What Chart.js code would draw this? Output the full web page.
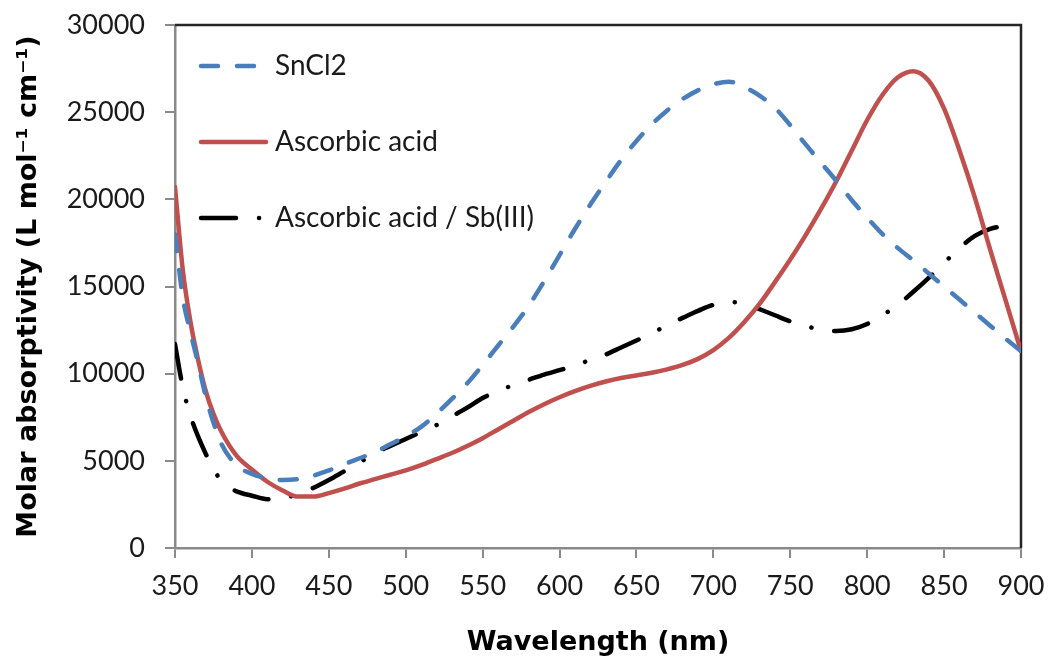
<!DOCTYPE html>
<html>
<head>
<meta charset="utf-8">
<script src="https://cdn.jsdelivr.net/npm/chart.js@4.4.1/dist/chart.umd.min.js"></script>
<style>
    html, body { margin: 0; padding: 0; background: #fff; }
    #wrap { width: 1049px; height: 661px; position: relative; }
</style>
</head>
<body>
<div id="wrap"><canvas id="spectra"></canvas></div>
<script>
// ── Data ──────────────────────────────────────────────────────
const X_TICKS = [350, 400, 450, 500, 550, 600, 650, 700, 750, 800, 850, 900];
const Y_TICKS = [0, 5000, 10000, 15000, 20000, 25000, 30000];

const WAVE_SNCL2 = [350, 355, 360, 365, 370, 375, 380, 390, 400, 410, 420, 430, 440, 450, 460, 470, 480, 490,
    500, 510, 520, 530, 540, 550, 560, 570, 580, 590, 600, 610, 620, 630, 640, 650, 660, 670, 680, 690,
    700, 710, 720, 730, 740, 750, 760, 770, 780, 790, 800, 810, 820, 830, 840, 850, 860, 870, 880, 890, 900];
const ABS_SNCL2 = [18000, 14400, 12400, 10600, 8700, 7200, 6000, 4750, 4250, 4000, 3900, 3950, 4150, 4450, 4800, 5150, 5500, 5950,
    6400, 6950, 7700, 8550, 9450, 10500, 11600, 12700, 13900, 15300, 16800, 18300, 19700, 21000, 22250, 23350, 24300, 25100, 25750, 26250,
    26600, 26750, 26450, 25950, 25250, 24250, 23150, 22100, 21050, 19950, 18950, 18000, 17200, 16500, 15750, 15000, 14250, 13500, 12750, 12000, 11300];

const WAVE_ASCORBIC = [350, 355, 360, 365, 370, 375, 380, 390, 400, 410, 420, 430, 440, 450, 460, 470, 480, 490,
    500, 510, 520, 530, 540, 550, 560, 570, 580, 590, 600, 610, 620, 630, 640, 650, 660, 670, 680, 690,
    700, 710, 720, 730, 740, 750, 760, 770, 780, 790, 800, 810, 820, 830, 840, 850, 860, 870, 880, 890, 900];
const ABS_ASCORBIC = [20700, 16000, 13000, 10800, 9000, 7700, 6700, 5300, 4500, 3800, 3300, 2950, 2950, 3150, 3400, 3700, 3950, 4200,
    4450, 4750, 5100, 5450, 5850, 6300, 6800, 7300, 7800, 8250, 8650, 9000, 9300, 9550, 9750, 9900, 10050, 10250, 10500, 10850,
    11350, 12050, 12950, 14000, 15250, 16550, 17950, 19450, 21050, 22800, 24550, 26000, 27000, 27350, 26800, 25200, 22800, 20100, 17100, 14200, 11300];

const WAVE_SB = [350, 355, 360, 365, 370, 375, 380, 385, 390, 400, 410, 420, 430, 440, 450, 460, 470, 480, 490,
    500, 510, 520, 530, 540, 550, 560, 570, 580, 590, 600, 610, 620, 630, 640, 650, 660, 670, 680, 690,
    700, 710, 720, 730, 740, 750, 760, 770, 780, 790, 800, 810, 820, 830, 840, 850, 860, 870, 880, 890];
const ABS_SB = [11700, 9250, 7600, 6400, 5400, 4500, 3900, 3500, 3250, 3000, 2800, 2850, 3100, 3450, 3900, 4400, 4900, 5450, 5850,
    6250, 6650, 7050, 7550, 8050, 8600, 9000, 9350, 9650, 9950, 10200, 10450, 10800, 11100, 11500, 11900, 12300, 12800, 13200, 13600,
    13950, 14100, 14050, 13700, 13350, 13000, 12750, 12500, 12450, 12550, 12850, 13350, 13950, 14700, 15500, 16350, 17200, 17900, 18300, 18500];

const SERIES_LABELS = ['SnCl2', 'Ascorbic acid', 'Ascorbic acid / Sb(III)'];

const FONT = 'Lato';
const TITLE_FONT = '"DejaVu Sans"';
const TEXT_COLOR = '#1a1a1a';
const AXIS_GRAY = '#8a8a8a';

const toPoints = (xs, ys) => xs.map((x, i) => ({ x, y: ys[i] }));

// ── Plot frame: dark top/right border ─────────────────────────
const framePlugin = {
    id: 'frame',
    beforeDatasetsDraw(chart) {
        const { ctx, chartArea: a } = chart;
        ctx.save();
        ctx.strokeStyle = '#262626';
        ctx.lineWidth = 2.5;
        ctx.beginPath();
        ctx.moveTo(a.left, a.top);
        ctx.lineTo(a.right, a.top);
        ctx.lineTo(a.right, a.bottom);
        ctx.stroke();
        ctx.restore();
    }
};

// ── Legend drawn inside the plot area ─────────────────────────
const insideLegend = {
    id: 'insideLegend',
    afterDatasetsDraw(chart) {
        const { ctx, chartArea: a } = chart;
        ctx.save();
        chart.data.datasets.forEach((ds, i) => {
            const y = a.top + 41 + i * 76;
            ctx.beginPath();
            ctx.strokeStyle = ds.borderColor;
            ctx.lineWidth = ds.borderWidth;
            ctx.lineCap = 'round';
            ctx.setLineDash(ds.borderDash || []);
            ctx.moveTo(a.left + 26, y);
            ctx.lineTo(a.left + 91, y);
            ctx.stroke();
            ctx.setLineDash([]);
            ctx.fillStyle = TEXT_COLOR;
            ctx.font = `28px ${FONT}`;
            ctx.textBaseline = 'middle';
            ctx.fillText(ds.label, a.left + 100, y);
        });
        ctx.restore();
    }
};

const ctx = document.getElementById('spectra').getContext('2d');
new Chart(ctx, {
    type: 'line',
    data: {
        datasets: [{
            label: SERIES_LABELS[0],
            data: toPoints(WAVE_SNCL2, ABS_SNCL2),
            borderColor: '#4a7ebb',
            borderWidth: 4.5,
            borderDash: [17, 19],
            borderCapStyle: 'round',
        }, {
            label: SERIES_LABELS[1],
            data: toPoints(WAVE_ASCORBIC, ABS_ASCORBIC),
            borderColor: '#c0504d',
            borderWidth: 4.5,
            borderCapStyle: 'round',
        }, {
            label: SERIES_LABELS[2],
            data: toPoints(WAVE_SB, ABS_SB),
            borderColor: '#000000',
            borderWidth: 4.5,
            borderDash: [35, 23, 0.1, 23],
            borderCapStyle: 'round',
        }]
    },
    options: {
        responsive: true,
        maintainAspectRatio: false,
        animation: false,
        layout: { padding: { top: 25, right: 28, left: 0, bottom: 0 } },
        elements: {
            point: { radius: 0 },
            line: { cubicInterpolationMode: 'monotone', borderJoinStyle: 'round' }
        },
        plugins: {
            legend: { display: false },
            tooltip: { enabled: false }
        },
        scales: {
            x: {
                type: 'linear',
                min: 350,
                max: 900,
                afterFit: s => { s.height = 113; s.paddingLeft = 0; s.paddingRight = 0; },
                afterBuildTicks: s => { s.ticks = X_TICKS.map(v => ({ value: v })); },
                grid: { drawOnChartArea: false, tickLength: 10, color: AXIS_GRAY, lineWidth: 2 },
                border: { color: AXIS_GRAY, width: 2.5 },
                ticks: {
                    padding: 12,
                    color: TEXT_COLOR,
                    font: { family: FONT, size: 27 },
                    maxRotation: 0,
                    autoSkip: false,
                    callback: v => String(v)
                },
                title: {
                    display: true,
                    text: 'Wavelength (nm)',
                    color: '#000',
                    font: { family: TITLE_FONT, size: 27, weight: 'bold' },
                    padding: { top: 0, bottom: 2 }
                }
            },
            y: {
                min: 0,
                max: 30000,
                afterFit: s => { s.width = 175; s.paddingTop = 0; s.paddingBottom = 0; },
                afterBuildTicks: s => { s.ticks = Y_TICKS.map(v => ({ value: v })); },
                grid: { drawOnChartArea: false, tickLength: 10, color: AXIS_GRAY, lineWidth: 2 },
                border: { color: AXIS_GRAY, width: 2.5 },
                ticks: {
                    padding: 20,
                    color: TEXT_COLOR,
                    font: { family: FONT, size: 27 },
                    autoSkip: false,
                    callback: v => String(v)
                },
                title: {
                    display: true,
                    text: 'Molar absorptivity (L mol⁻¹ cm⁻¹)',
                    color: '#000',
                    font: { family: TITLE_FONT, size: 27, weight: 'bold' },
                    padding: { top: 13, bottom: 0 }
                }
            }
        }
    },
    plugins: [framePlugin, insideLegend]
});
</script>
</body>
</html>
